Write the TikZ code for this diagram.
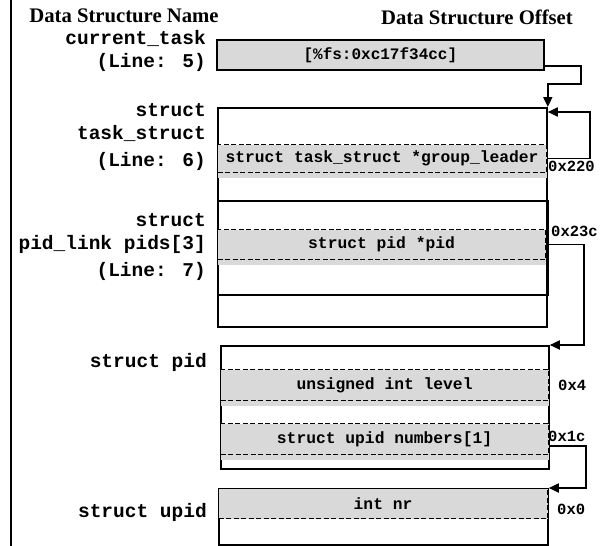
\documentclass[tikz,border=0pt]{standalone}
\usepackage{fontspec}
\setmainfont{Liberation Serif}
\newfontfamily\codefont{Liberation Mono}
\usetikzlibrary{arrows.meta,shadows}

\begin{document}
\begin{tikzpicture}[
  x=1pt, y=-1pt,
  head/.style={font=\fontsize{20.7}{24}\selectfont\bfseries},
  structname/.style={font=\codefont\bfseries\fontsize{19.5}{23}\selectfont, align=right, anchor=east, inner sep=0pt},
  offtext/.style={font=\codefont\bfseries\fontsize{15.5}{18}\selectfont, anchor=west, inner sep=0pt},
  box/.style={draw, line width=1.8pt, inner sep=0pt, anchor=north west,
    font=\codefont\bfseries\fontsize{16}{18}\selectfont},
  field/.style={draw, dash pattern=on 5pt off 2.5pt, line width=1.1pt, fill=black!15,
    inner sep=0pt, anchor=north west, font=\codefont\bfseries\fontsize{16.3}{18}\selectfont},
  member/.style={field, drop shadow={shadow xshift=0pt, shadow yshift=-5pt, fill=black!15, opacity=1}},
  flow/.style={-{Triangle[length=10pt,width=9pt]}, line width=1.8pt}
]
\useasboundingbox (0,0) rectangle (613,546);

% divider on the left
\coordinate (divtop) at (10.5,0);
\coordinate (divbot) at (10.5,546);
\draw[line width=2pt] (divtop) -- (divbot);

\node[head] (namehead) at (124,16) {Data Structure Name};
\node[head] (offhead) at (477,17) {Data Structure Offset};

% structures
\node[box, fill=black!15, minimum width=327, minimum height=30] (cur) at (216,39) {[\%fs:0xc17f34cc]};
\node[box, minimum width=329, minimum height=219] (task) at (217,107) {};
\node[box, minimum width=330, minimum height=94] (pids) at (217,200) {};
\node[box, minimum width=328, minimum height=123] (pid) at (220,345) {};
\node[box, minimum width=329, minimum height=56] (upid) at (218,488) {};

% members
\node[member, minimum width=329, minimum height=28] (leader) at (217,144) {struct task\_struct *group\_leader};
\node[member, minimum width=328, minimum height=30] (pidptr) at (217,229) {struct pid *pid};
\node[member, minimum width=328, minimum height=31] (level) at (220,369) {unsigned int level};
\node[member, minimum width=328, minimum height=31] (numbers) at (220,423) {struct upid numbers[1]};
\node[field, minimum width=329, minimum height=30] (nr) at (218,488) {int nr};

% names
\node[structname] (curname) at (206,51) {current\_task\\(Line: 5)};
\node[structname] (taskname) at (206,137) {struct\\task\_struct\\[4pt](Line: 6)};
\node[structname] (pidsname) at (206,247) {struct\\pid\_link pids[3]\\[4pt](Line: 7)};
\node[structname] (pidname) at (207,362) {struct pid};
\node[structname] (upidname) at (207,512) {struct upid};

% offsets
\node[offtext] (off220) at (548,166) {0x220};
\node[offtext] (off23c) at (551,231) {0x23c};
\node[offtext] (off4) at (558,385) {0x4};
\node[offtext] (off1c) at (548,436) {0x1c};
\node[offtext] (off0) at (557,509) {0x0};

% pointers
\draw[flow] ([yshift=-11pt]cur.east) -- ++(36,0) -- ++(0,18) -| (task.north east);
\draw[flow] (leader.east) -- ++(43,0) |- ([yshift=-5pt]task.north east);
\draw[flow] (pidptr.east) -- ++(38,0) |- (pid.north east);
\draw[flow] ([yshift=-7pt]numbers.east) -- ++(37,0) |- (upid.north east);
\end{tikzpicture}
\end{document}
